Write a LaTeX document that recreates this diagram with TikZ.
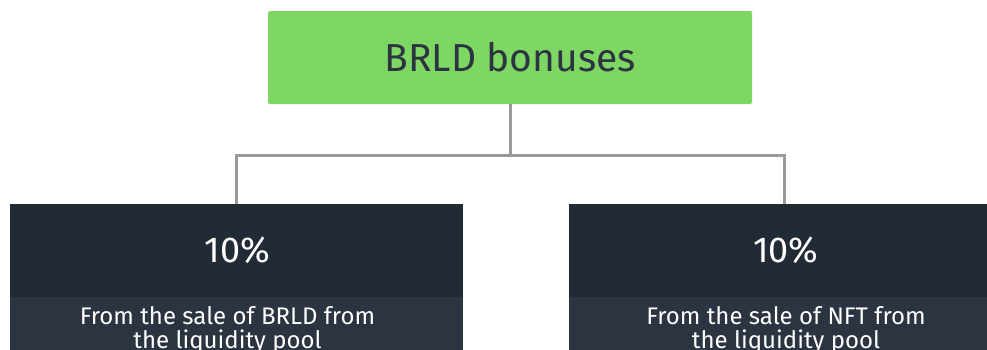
\documentclass[tikz,border=0pt]{standalone}
\usepackage{fontspec}
\setmainfont{Fira Sans}
\definecolor{boxgreen}{HTML}{7ED663}
\definecolor{darkbox}{HTML}{222A35}
\definecolor{darkbox2}{HTML}{2B3440}
\definecolor{titletext}{HTML}{2B3440}
\definecolor{linkgray}{HTML}{9A9A9A}
\tikzset{
  link/.style={draw=linkgray,line width=3bp},
  pct/.style={text=white,font=\fontsize{36bp}{38bp}\selectfont,inner sep=0pt},
  desc/.style={text=white,font=\fontsize{24bp}{24bp}\selectfont,align=center,inner sep=0pt,anchor=north},
}
\begin{document}
\begin{tikzpicture}[x=1bp,y=-1bp]
\useasboundingbox (0,0) rectangle (987,349);
\clip (0,0) rectangle (987,349);
% title
\node[fill=boxgreen,rounded corners=1.5bp,minimum width=484bp,minimum height=93bp,inner sep=0pt,
  text=titletext,font=\fontsize{39bp}{40bp}\selectfont] (title) at (510,57.5) {BRLD bonuses};
% left box
\fill[darkbox] (10,204) rectangle (463,297);
\fill[darkbox2] (10,297) rectangle (463,360);
\coordinate (ltop) at (236,204);
\node[pct] (lpct) at (237.5,250) {10\%};
\node[desc] (ldesc) at (227.5,306) {From the sale of BRLD from\\the liquidity pool};
% right box
\fill[darkbox] (569,204) rectangle (1000,297);
\fill[darkbox2] (569,297) rectangle (1000,360);
\coordinate (rtop) at (784,204);
\node[pct] (rpct) at (786,250) {10\%};
\node[desc] (rdesc) at (786,306) {From the sale of NFT from\\the liquidity pool};
% connectors
\coordinate (mid) at (510,155);
\draw[link] (title.south) -- (mid);
\draw[link] (ltop) |- (mid) -| (rtop);
\end{tikzpicture}
\end{document}
